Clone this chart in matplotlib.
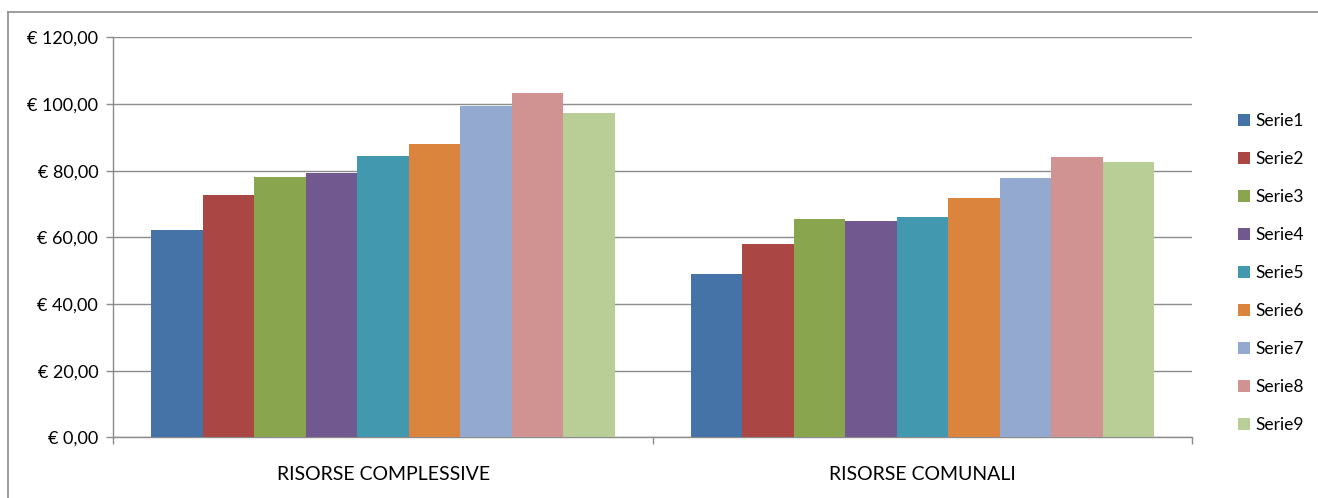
import numpy as np
import matplotlib
matplotlib.use('Agg')
import matplotlib.pyplot as plt
from matplotlib.lines import Line2D
from matplotlib.patches import Patch

plt.rcParams['font.family'] = ['Lato', 'DejaVu Sans']

# Values per category (EUR)
categories = ['RISORSE COMPLESSIVE', 'RISORSE COMUNALI']
series_names = ['Serie1', 'Serie2', 'Serie3', 'Serie4', 'Serie5',
                'Serie6', 'Serie7', 'Serie8', 'Serie9']
complessive = [62.2, 72.7, 78.1, 79.3, 84.4, 88.0, 99.4, 103.3, 97.3]
comunali = [49.0, 58.0, 65.5, 64.9, 66.1, 71.8, 77.8, 84.1, 82.6]
colors = ['#4572A7', '#AA4643', '#89A54E', '#71588F', '#4198AF',
          '#DB843D', '#93A9CF', '#D19392', '#B9CD96']
yticks = [0, 20, 40, 60, 80, 100, 120]

fig = plt.figure(figsize=(13.18, 4.98), dpi=100)
ax = fig.add_axes([0.0861, 0.1219, 0.9044 - 0.0861, 0.9251 - 0.1219])

x = np.arange(len(categories))
n = len(series_names)
group_w = 0.859
w = group_w / n
for i in range(n):
    vals = [complessive[i], comunali[i]]
    ax.bar(x - group_w / 2 + w * (i + 0.5), vals, width=w, color=colors[i],
           label=series_names[i], zorder=3)

ax.set_xlim(-0.5, 1.5)
ax.set_ylim(0, 120)
ax.set_yticks(yticks)
ax.set_yticklabels(['€ %d,00' % v for v in yticks])
ax.yaxis.grid(True, color='#8c8c8c', linewidth=1.0, zorder=0)

ax.set_xticks(x)
ax.set_xticklabels(categories)
ax.set_xticks([-0.5, 0.5, 1.5], minor=True)
ax.tick_params(axis='x', which='major', length=0, pad=21, labelsize=14)
ax.tick_params(axis='x', which='minor', length=5, color='#8c8c8c', width=1)
ax.tick_params(axis='y', length=5, color='#8c8c8c', width=1, pad=6, labelsize=13)

for s in ['top', 'right']:
    ax.spines[s].set_visible(False)
for s in ['left', 'bottom']:
    ax.spines[s].set_color('#8c8c8c')
    ax.spines[s].set_linewidth(1.0)

handles = [Patch(facecolor=c, edgecolor='none') for c in colors]
leg = fig.legend(handles, series_names, loc='center left',
                 bbox_to_anchor=(1222 / 1318, 1 - 273 / 498), frameon=False,
                 fontsize=12.5, handlelength=0.7, handleheight=0.7,
                 handletextpad=0.3, labelspacing=1.27)

# outer chart border
fig.add_artist(Line2D([8 / 1318, 8 / 1318], [0, 1 - 12 / 498],
                      transform=fig.transFigure, color='#8c8c8c', linewidth=1.2))
fig.add_artist(Line2D([8 / 1318, 1], [1 - 12 / 498, 1 - 12 / 498],
                      transform=fig.transFigure, color='#8c8c8c', linewidth=1.2))

fig.savefig('out.png', dpi=100)
